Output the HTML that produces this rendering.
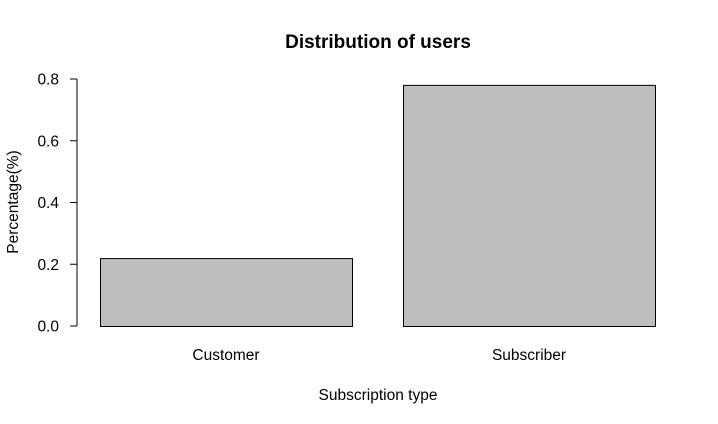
<!DOCTYPE html>
<html><head><meta charset="utf-8"><style>
body{margin:0;background:#fff;}
svg{display:block;font-family:"Liberation Sans",Arial,sans-serif;}
</style></head><body>
<svg id="chart" width="718" height="424">
<rect width="718" height="424" fill="#fff"/>
<text x="378" y="48" text-anchor="middle" font-size="19" font-weight="bold">Distribution of users</text>
<text x="378" y="400" text-anchor="middle" font-size="15.5">Subscription type</text>
<text transform="translate(18,202) rotate(-90)" text-anchor="middle" font-size="15.5">Percentage(%)</text>
<g id="yaxis"></g>
<g id="bars"></g>
</svg>
<script>
const categories=["Customer","Subscriber"];
const values=[0.22,0.781];
const yTicks=[0,0.2,0.4,0.6,0.8];
const yTickLabels=["0.0","0.2","0.4","0.6","0.8"];
const NS="http://www.w3.org/2000/svg";
function y(v){return 326-(v/0.8)*247;}
function x(i){return 100+i*303;}
const bw=252;
function mk(t,a,p){const e=document.createElementNS(NS,t);for(const k in a)e.setAttribute(k,a[k]);p.appendChild(e);return e;}
const ya=document.getElementById('yaxis');
mk('line',{x1:77,x2:77,y1:y(yTicks[0]),y2:y(yTicks[yTicks.length-1]),stroke:'#000'},ya);
yTicks.forEach((t,i)=>{
  const l=mk('line',{x1:70,x2:77,y1:y(t),y2:y(t),stroke:'#000'},ya);
  
  
  const tx=mk('text',{x:59,y:y(t)+5.5,'text-anchor':'end','font-size':15.5},ya);
  tx.textContent=yTickLabels[i];
  
  
});
const bg=document.getElementById('bars');
categories.forEach((c,i)=>{
  const r=mk('rect',{x:x(i)+0.5,y:y(values[i])+0.5,width:bw,height:y(0)-y(values[i]),fill:'#bebebe',stroke:'#000'},bg);
  
  
  const t=mk('text',{x:x(i)+bw/2,y:360,'text-anchor':'middle','font-size':15.5},bg);
  t.textContent=c;
  
  
});
</script>
</body></html>
